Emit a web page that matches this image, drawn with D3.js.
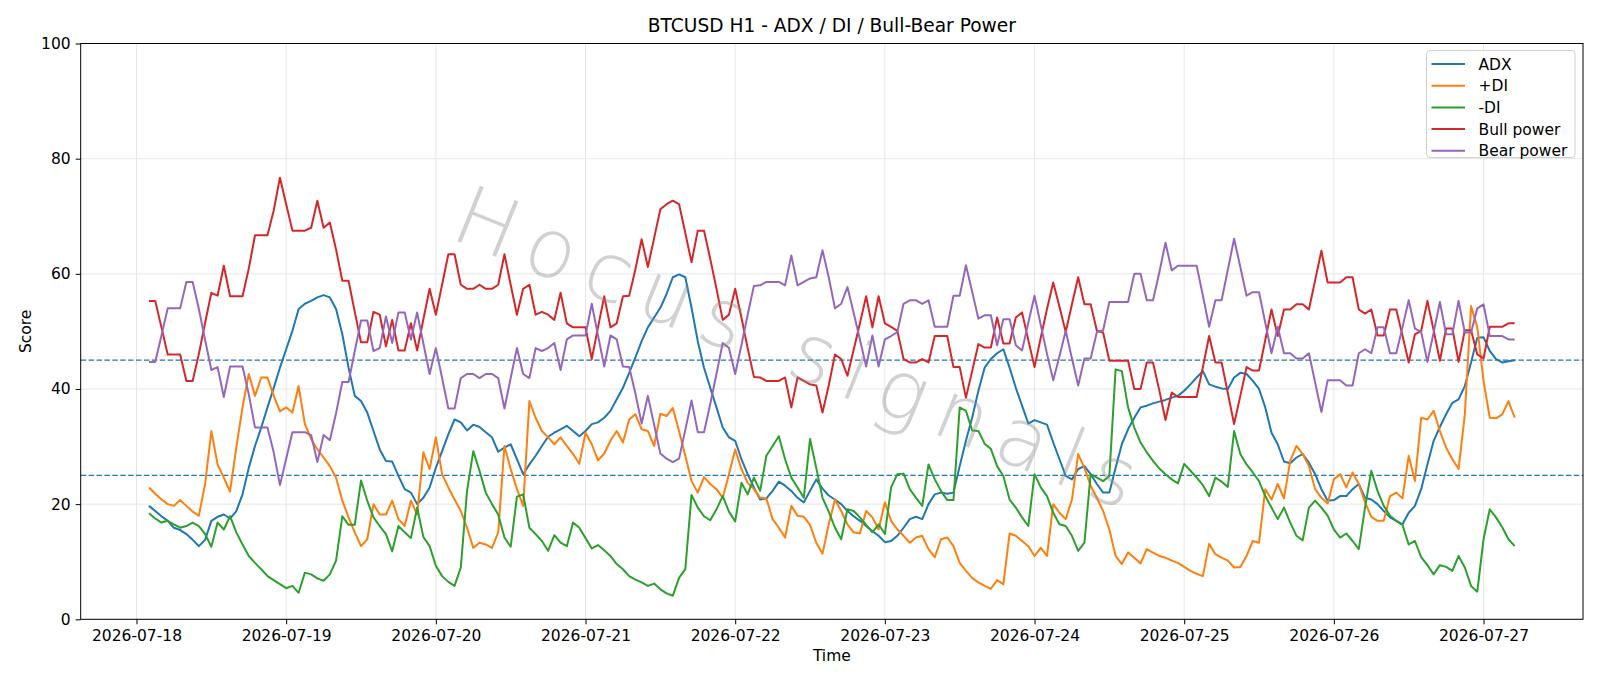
<!DOCTYPE html>
<html>
<head>
<meta charset="utf-8">
<script src="https://cdn.jsdelivr.net/npm/d3@7"></script>
<style>
  html, body { margin: 0; padding: 0; background: #fff; }
  svg { display: block; font-family: "DejaVu Sans", sans-serif; }
</style>
</head>
<body>
<svg id="chart" width="1600" height="686"></svg>
<script>
// hourly bars, first one at 2026-07-18 02:00 UTC
const startHour = "2026-07-18T02:00:00Z";

const adx = [
  19.7, 18.8, 17.9, 17.1, 15.9, 15.5, 14.8, 13.8, 12.7, 13.8,
  17.1, 17.8, 18.2, 17.5, 18.8, 21.7, 26.3, 30.1, 33.3, 36.8,
  40.2, 43.7, 46.9, 50.1, 53.9, 54.8, 55.3, 55.9, 56.3, 55.9,
  53.9, 49.5, 43.7, 38.8, 37.9, 35.9, 32.7, 29.5, 27.5, 27.4,
  24.9, 22.6, 22.0, 20.0, 21.1, 22.9, 26.3, 29.2, 32.1, 34.7,
  34.2, 32.8, 33.8, 33.4, 32.5, 31.6, 29.1, 29.8, 30.4, 27.8,
  25.2, 26.9, 28.4, 30.1, 31.7, 32.4, 33.0, 33.6, 32.7, 31.8,
  32.7, 33.9, 34.2, 35.0, 36.2, 38.2, 40.2, 42.8, 45.5, 48.3,
  50.7, 52.4, 54.1, 56.5, 59.4, 59.9, 59.4, 54.1, 48.3, 43.7,
  40.2, 36.8, 33.3, 31.6, 31.0, 27.8, 25.2, 22.9, 20.8, 21.0,
  22.3, 23.9, 23.2, 22.3, 21.1, 20.3, 22.3, 24.3, 22.7, 21.5,
  20.8, 20.0, 18.8, 17.9, 17.1, 16.2, 15.3, 14.5, 13.4, 13.6,
  14.5, 15.9, 17.4, 17.8, 17.4, 20.0, 21.7, 22.0, 21.8, 22.0,
  26.6, 31.0, 35.0, 39.7, 43.7, 45.2, 46.2, 46.9, 43.7, 40.2,
  37.1, 34.0, 34.6, 34.2, 33.8, 30.7, 27.8, 24.9, 24.3, 26.1,
  26.6, 25.2, 23.5, 22.0, 22.0, 26.3, 30.4, 33.0, 35.0, 36.8,
  37.1, 37.5, 37.8, 38.1, 38.5, 38.8, 39.7, 40.8, 42.0, 43.1,
  40.8, 40.4, 40.1, 40.0, 42.0, 42.8, 42.6, 41.4, 40.0, 36.8,
  32.4, 30.4, 27.4, 27.1, 28.1, 28.7, 27.2, 25.2, 22.6, 20.6,
  20.7, 21.4, 21.4, 22.6, 23.5, 21.1, 20.8, 20.0, 18.8, 17.7,
  17.1, 16.5, 18.5, 19.7, 22.6, 26.9, 31.0, 33.4, 35.6, 37.6,
  38.2, 40.5, 44.6, 48.9, 49.0, 46.6, 45.2, 44.6, 44.8, 45.0
];

const plusDI = [
  22.9, 21.8, 20.8, 20.0, 19.7, 20.7, 19.7, 18.7, 18.0, 23.5,
  32.7, 26.9, 24.6, 22.2, 29.8, 36.8, 42.6, 38.8, 42.0, 42.0,
  38.8, 36.1, 36.8, 35.9, 40.5, 33.9, 31.3, 29.5, 28.1, 26.6,
  24.6, 20.6, 17.7, 15.1, 12.7, 13.9, 20.0, 18.2, 18.2, 20.6,
  17.4, 16.2, 20.6, 18.2, 29.0, 26.1, 31.6, 25.2, 22.9, 20.8,
  18.8, 15.9, 12.4, 13.3, 13.0, 12.4, 15.1, 30.1, 26.1, 22.6,
  19.7, 37.9, 35.0, 32.7, 31.6, 30.4, 31.6, 30.1, 28.7, 27.0,
  32.4, 30.4, 27.6, 28.8, 31.0, 32.7, 30.7, 34.7, 35.6, 33.0,
  32.7, 30.1, 35.7, 35.3, 36.7, 32.7, 28.4, 24.0, 22.0, 24.7,
  23.5, 22.6, 21.1, 25.2, 29.5, 26.1, 23.7, 22.6, 21.1, 21.0,
  17.4, 15.9, 14.2, 19.7, 18.0, 17.8, 16.4, 13.3, 11.4, 16.5,
  20.8, 18.8, 16.5, 15.1, 14.9, 18.8, 17.7, 15.6, 20.3, 17.1,
  15.6, 14.5, 13.3, 14.2, 14.5, 12.2, 10.8, 13.9, 14.2, 12.7,
  9.8, 8.4, 7.2, 6.4, 5.8, 5.3, 6.8, 6.1, 14.9, 14.5,
  13.6, 12.7, 11.0, 12.4, 11.0, 20.0, 18.5, 17.4, 20.8, 28.7,
  26.3, 23.2, 21.1, 18.8, 15.6, 11.0, 9.6, 11.6, 10.7, 9.7,
  12.2, 11.6, 11.0, 10.7, 10.2, 9.8, 9.1, 8.4, 7.9, 7.5,
  13.1, 11.3, 10.7, 10.2, 9.0, 9.1, 11.0, 13.6, 13.3, 22.6,
  20.8, 23.5, 21.0, 27.5, 30.1, 28.7, 26.6, 22.6, 21.1, 20.1,
  24.3, 25.2, 22.9, 25.5, 23.5, 20.3, 17.8, 17.1, 17.1, 21.4,
  22.0, 21.0, 28.4, 24.0, 35.0, 34.7, 36.2, 32.7, 29.8, 27.8,
  26.1, 35.6, 54.4, 50.7, 41.4, 35.0, 34.9, 35.6, 37.9, 35.0
];

const minusDI = [
  18.4, 17.5, 16.8, 17.1, 16.5, 15.9, 16.2, 16.8, 16.2, 14.8,
  12.6, 16.8, 15.6, 17.9, 15.1, 13.0, 11.0, 9.8, 8.7, 7.5,
  6.8, 6.1, 5.4, 5.8, 4.6, 8.1, 7.8, 7.1, 6.7, 7.8,
  10.2, 17.9, 16.4, 16.4, 24.1, 20.6, 17.7, 16.2, 14.8, 11.8,
  16.2, 15.1, 14.1, 19.4, 14.3, 12.7, 9.3, 7.5, 6.5, 5.8,
  9.0, 22.3, 29.2, 25.8, 22.0, 20.0, 18.2, 14.2, 12.6, 21.3,
  21.7, 15.9, 14.8, 13.6, 11.9, 14.6, 13.3, 12.7, 16.8, 15.9,
  14.1, 12.3, 12.9, 12.0, 11.0, 9.6, 8.7, 7.5, 6.9, 6.4,
  5.8, 6.2, 5.2, 4.5, 4.1, 7.2, 8.7, 21.6, 19.4, 17.9,
  17.2, 19.1, 21.4, 18.7, 17.0, 23.7, 21.7, 24.6, 22.3, 28.4,
  30.1, 31.8, 27.8, 24.6, 22.9, 21.1, 31.3, 26.3, 21.1, 18.7,
  15.9, 13.9, 19.1, 18.8, 17.7, 16.4, 15.1, 16.5, 14.8, 22.9,
  25.2, 25.3, 22.6, 21.1, 19.7, 26.9, 24.3, 22.3, 20.7, 20.7,
  36.8, 36.2, 32.8, 32.7, 30.5, 29.6, 26.6, 24.9, 20.8, 19.4,
  17.7, 16.2, 25.2, 22.9, 21.4, 18.5, 16.5, 16.2, 14.5, 11.9,
  13.3, 25.2, 24.6, 24.0, 24.9, 43.4, 43.1, 36.8, 33.3, 30.7,
  29.0, 27.5, 26.2, 25.2, 24.3, 23.6, 27.0, 25.8, 24.6, 23.3,
  21.4, 24.6, 23.9, 23.0, 32.7, 28.7, 26.9, 25.5, 24.0, 21.4,
  19.4, 17.4, 19.4, 16.8, 14.5, 13.7, 19.4, 20.6, 19.4, 18.0,
  15.6, 14.2, 14.9, 13.6, 12.2, 19.4, 25.8, 22.3, 19.7, 18.0,
  17.1, 16.4, 13.0, 13.6, 10.8, 9.4, 7.8, 9.4, 9.1, 8.4,
  11.0, 9.0, 5.8, 4.8, 13.9, 19.1, 17.7, 16.0, 13.9, 12.7
];

const bullPower = [
  55.3, 55.3, 50.7, 46.0, 46.0, 46.0, 41.4, 41.4, 46.1, 51.5,
  56.7, 56.2, 61.4, 56.1, 56.1, 56.1, 60.9, 66.7, 66.7, 66.7,
  71.0, 76.7, 72.1, 67.5, 67.5, 67.5, 68.0, 72.7, 68.0, 68.9,
  64.2, 58.8, 58.8, 53.4, 48.1, 48.1, 53.4, 52.9, 47.4, 52.0,
  46.7, 46.7, 51.4, 46.7, 52.1, 57.4, 52.9, 58.1, 63.4, 63.4,
  58.1, 57.4, 57.4, 58.1, 57.4, 57.4, 58.1, 63.4, 58.1, 52.9,
  57.4, 58.1, 52.9, 53.4, 52.9, 52.0, 56.7, 51.4, 50.7, 50.7,
  50.7, 45.2, 50.7, 56.1, 50.7, 51.4, 56.1, 56.2, 60.8, 66.0,
  61.2, 66.2, 71.2, 72.1, 72.7, 72.1, 67.1, 62.0, 67.5, 67.5,
  62.6, 57.4, 52.0, 52.9, 57.4, 52.4, 47.1, 42.1, 42.0, 41.4,
  41.4, 41.4, 42.0, 36.8, 42.0, 41.4, 40.8, 40.6, 35.9, 40.6,
  46.0, 45.2, 42.3, 46.8, 51.4, 56.1, 50.7, 56.1, 51.4, 50.8,
  50.1, 45.2, 44.6, 44.6, 45.2, 44.6, 49.2, 49.2, 49.2, 43.8,
  43.8, 38.5, 43.1, 47.8, 47.2, 47.2, 52.4, 47.9, 47.9, 52.4,
  53.3, 48.5, 43.8, 48.9, 53.9, 58.5, 54.3, 49.9, 54.7, 59.4,
  54.7, 54.7, 50.1, 49.8, 44.9, 44.9, 44.9, 44.9, 40.0, 40.0,
  44.6, 44.6, 39.8, 34.6, 39.4, 38.6, 38.6, 38.6, 38.6, 43.8,
  49.2, 44.6, 44.6, 39.3, 33.9, 38.8, 43.8, 43.2, 43.2, 48.5,
  53.8, 49.2, 53.8, 53.8, 54.7, 54.7, 53.8, 58.9, 64.0, 58.5,
  58.5, 58.5, 59.4, 59.4, 53.8, 53.1, 53.8, 49.3, 49.3, 53.8,
  53.8, 49.3, 44.6, 49.5, 50.1, 55.3, 50.2, 44.9, 50.5, 50.5,
  44.7, 50.2, 50.2, 46.0, 45.3, 50.8, 50.8, 50.8, 51.4, 51.4
];

const bearPower = [
  44.7, 44.7, 49.3, 54.0, 54.0, 54.0, 58.6, 58.6, 53.9, 48.5,
  43.3, 43.8, 38.6, 43.9, 43.9, 43.9, 39.1, 33.3, 33.3, 33.3,
  29.0, 23.3, 27.9, 32.5, 32.5, 32.5, 32.0, 27.3, 32.0, 31.1,
  35.8, 41.2, 41.2, 46.6, 51.9, 51.9, 46.6, 47.1, 52.6, 48.0,
  53.3, 53.3, 48.6, 53.3, 47.9, 42.6, 47.1, 41.9, 36.6, 36.6,
  41.9, 42.6, 42.6, 41.9, 42.6, 42.6, 41.9, 36.6, 41.9, 47.1,
  42.6, 41.9, 47.1, 46.6, 47.1, 48.0, 43.3, 48.6, 49.3, 49.3,
  49.3, 54.8, 49.3, 43.9, 49.3, 48.6, 43.9, 43.8, 39.2, 34.0,
  38.8, 33.8, 28.8, 27.9, 27.3, 27.9, 32.9, 38.0, 32.5, 32.5,
  37.4, 42.6, 48.0, 47.1, 42.6, 47.6, 52.9, 57.9, 58.0, 58.6,
  58.6, 58.6, 58.0, 63.2, 58.0, 58.6, 59.2, 59.4, 64.1, 59.4,
  54.0, 54.8, 57.7, 53.2, 48.6, 43.9, 49.3, 43.9, 48.6, 49.2,
  49.9, 54.8, 55.4, 55.4, 54.8, 55.4, 50.8, 50.8, 50.8, 56.2,
  56.2, 61.5, 56.9, 52.2, 52.8, 52.8, 47.6, 52.1, 52.1, 47.6,
  46.7, 51.5, 56.2, 51.1, 46.1, 41.5, 45.7, 50.1, 45.3, 40.6,
  45.3, 45.3, 49.9, 50.2, 55.1, 55.1, 55.1, 55.1, 60.0, 60.0,
  55.4, 55.4, 60.2, 65.4, 60.6, 61.4, 61.4, 61.4, 61.4, 56.2,
  50.8, 55.4, 55.4, 60.7, 66.1, 61.2, 56.2, 56.8, 56.8, 51.5,
  46.2, 50.8, 46.2, 46.2, 45.3, 45.3, 46.2, 41.1, 36.0, 41.5,
  41.5, 41.5, 40.6, 40.6, 46.2, 46.9, 46.2, 50.7, 50.7, 46.2,
  46.2, 50.7, 55.4, 50.5, 49.9, 44.7, 49.8, 55.1, 49.5, 49.5,
  55.3, 49.8, 49.8, 54.0, 54.7, 49.2, 49.2, 49.2, 48.6, 48.6
];

const seriesNames = ["ADX", "+DI", "-DI", "Bull power", "Bear power"];
const seriesColors = ["#1f77b4", "#ff7f0e", "#2ca02c", "#d62728", "#9467bd"];
const dayTicks = ["2026-07-18", "2026-07-19", "2026-07-20", "2026-07-21", "2026-07-22",
                  "2026-07-23", "2026-07-24", "2026-07-25", "2026-07-26", "2026-07-27"];
const yTicks = [0, 20, 40, 60, 80, 100];
const levels = [45, 25];

const W = 1600, H = 686;
const margin = {top: 43.5, right: 17, bottom: 66.7, left: 80.7};
const svg = d3.select("#chart");

const t0 = new Date(startHour);
const hourMs = 3600 * 1000;
const times = adx.map((_, i) => new Date(t0.getTime() + i * hourMs));

// matplotlib style 5% padding on x
const tMin = times[0].getTime(), tMax = times[times.length - 1].getTime();
const pad = (tMax - tMin) * 0.05;
const x = d3.scaleUtc()
    .domain([new Date(tMin - pad), new Date(tMax + pad)])
    .range([margin.left, W - margin.right]);
const y = d3.scaleLinear()
    .domain([0, 100])
    .range([H - margin.bottom, margin.top]);

const tickFont = 15.5;

// grid
const grid = svg.append("g").attr("stroke", "#e6e6e6").attr("stroke-width", 1);
grid.selectAll("line.gy").data(yTicks).join("line")
    .attr("x1", margin.left).attr("x2", W - margin.right)
    .attr("y1", d => y(d)).attr("y2", d => y(d));
grid.selectAll("line.gx").data(dayTicks).join("line")
    .attr("x1", d => x(new Date(d + "T00:00:00Z"))).attr("x2", d => x(new Date(d + "T00:00:00Z")))
    .attr("y1", margin.top).attr("y2", H - margin.bottom);

// threshold lines
svg.append("g").selectAll("line").data(levels).join("line")
    .attr("x1", margin.left).attr("x2", W - margin.right)
    .attr("y1", d => y(d)).attr("y2", d => y(d))
    .attr("stroke", "#1f77b4").attr("stroke-width", 1.3)
    .attr("stroke-dasharray", "5.5,2.4");

// series lines
const allSeries = [adx, plusDI, minusDI, bullPower, bearPower];
const line = d3.line().x((d, i) => x(times[i])).y(d => y(d));
svg.append("g").selectAll("path").data(allSeries).join("path")
    .attr("d", d => line(d))
    .attr("fill", "none")
    .attr("stroke", (d, i) => seriesColors[i])
    .attr("stroke-width", 2)
    .attr("stroke-linejoin", "round");

// watermark
svg.append("text")
    .attr("transform", "translate(803,350) rotate(22)")
    .attr("text-anchor", "middle")
    .attr("dominant-baseline", "central")
    .attr("font-size", 82)
    .attr("font-weight", 200)
    .attr("letter-spacing", 14)
    .attr("fill", "#8c8c8c")
    .attr("fill-opacity", 0.4)
    .text("Hocus signals");

// axes
const xAxis = d3.axisBottom(x)
    .tickValues(dayTicks.map(d => new Date(d + "T00:00:00Z")))
    .tickFormat(d3.utcFormat("%Y-%m-%d"))
    .tickSize(5)
    .tickPadding(6);
const gx = svg.append("g").attr("transform", `translate(0,${H - margin.bottom})`).call(xAxis);
const yAxis = d3.axisLeft(y).tickValues(yTicks).tickSize(5).tickPadding(5);
const gy = svg.append("g").attr("transform", `translate(${margin.left},0)`).call(yAxis);
[gx, gy].forEach(g => {
    g.select(".domain").remove();
    g.selectAll(".tick line").attr("stroke", "#000").attr("stroke-width", 1);
    g.selectAll(".tick text").attr("font-size", tickFont).attr("fill", "#000")
        .attr("font-family", "DejaVu Sans, sans-serif");
});

// frame
svg.append("rect")
    .attr("x", margin.left).attr("y", margin.top)
    .attr("width", W - margin.left - margin.right)
    .attr("height", H - margin.top - margin.bottom)
    .attr("fill", "none").attr("stroke", "#000").attr("stroke-width", 1);

// title and labels
svg.append("text").attr("x", (margin.left + W - margin.right) / 2).attr("y", 32)
    .attr("text-anchor", "middle").attr("font-size", 18.6).text("BTCUSD H1 - ADX / DI / Bull-Bear Power");
svg.append("text").attr("x", (margin.left + W - margin.right) / 2).attr("y", 661)
    .attr("text-anchor", "middle").attr("font-size", tickFont).text("Time");
svg.append("text").attr("transform", `translate(31,${(margin.top + H - margin.bottom) / 2}) rotate(-90)`)
    .attr("text-anchor", "middle").attr("font-size", tickFont).text("Score");

// legend
const lg = svg.append("g").attr("transform", "translate(1426.5,50.5)");
lg.append("rect").attr("width", 148.5).attr("height", 107).attr("rx", 3.5)
    .attr("fill", "#fff").attr("fill-opacity", 0.8)
    .attr("stroke", "#d0d0d0").attr("stroke-width", 1);
const rows = lg.selectAll("g.row").data(seriesNames).join("g")
    .attr("transform", (d, i) => `translate(0,${13.5 + i * 21.7})`);
rows.append("line").attr("x1", 5).attr("x2", 38.5)
    .attr("stroke", (d, i) => seriesColors[i]).attr("stroke-width", 2);
rows.append("text").attr("x", 52).attr("dy", "0.36em")
    .attr("font-size", tickFont).text(d => d);
</script>
</body>
</html>
